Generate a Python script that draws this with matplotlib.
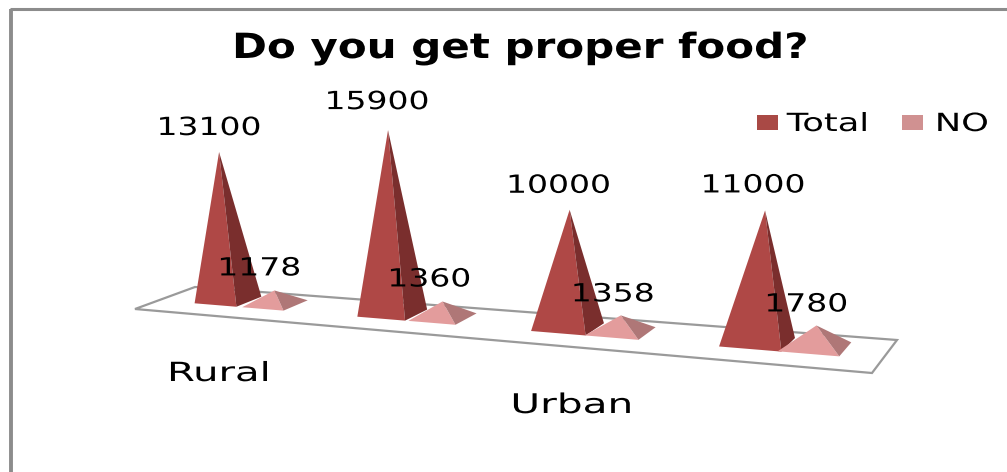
#!/usr/bin/env python3
# -*- coding: utf-8 -*-
import numpy as np
import matplotlib
matplotlib.use('Agg')
import matplotlib.pyplot as plt
from matplotlib.patches import Polygon, Patch
from matplotlib.patheffects import AbstractPathEffect
from matplotlib.transforms import Affine2D

title = 'Do you get proper food?'
categories = ['Rural', 'Urban']
series_names = ['Total', 'NO']
total_values = [13100, 15900, 10000, 11000]
no_values = [1178, 1360, 1358, 1780]

# layout, all in image pixels
floor_corners = np.array([[135, 309], [872, 373], [897, 340], [195, 287]], dtype=float)
total_u = [0.100, 0.367, 0.617, 0.854]
no_u = [0.180, 0.442, 0.686, 0.920]
half_u = 0.036
depth_lo, depth_hi = 0.38, 0.82
total_dx = [-10, -11, -11, -12]
total_dy = [-24, -28, -24, -25]
no_dx = [-15, -13, -8, -10]
no_dy = [-22, -22, -21, -21]
colors_total = ('#AF4846', '#7A2E2D')
colors_no = ('#E39C9C', '#AF7777')
grey = '#8C8C8C'


class WideText(AbstractPathEffect):
    # the reference image was stretched sideways, so the glyphs are too
    def __init__(self, stretch):
        super().__init__()
        self.stretch = stretch

    def draw_path(self, renderer, gc, tpath, affine, rgbFace=None):
        ext = tpath.get_extents()
        cx = (ext.x0 + ext.x1) / 2
        wide = Affine2D().translate(-cx, 0).scale(self.stretch, 1).translate(cx, 0) + affine
        renderer.draw_path(gc, tpath, wide, rgbFace)


def floor_matrix(c):
    # unit square -> floor quad
    d1 = c[1] - c[2]
    d2 = c[3] - c[2]
    s = c[0] - c[1] + c[2] - c[3]
    det = d1[0] * d2[1] - d1[1] * d2[0]
    g = (s[0] * d2[1] - s[1] * d2[0]) / det
    h = (d1[0] * s[1] - d1[1] * s[0]) / det
    return np.array([[c[1, 0] - c[0, 0] + g * c[1, 0], c[3, 0] - c[0, 0] + h * c[3, 0], c[0, 0]],
                     [c[1, 1] - c[0, 1] + g * c[1, 1], c[3, 1] - c[0, 1] + h * c[3, 1], c[0, 1]],
                     [g, h, 1.0]])


M = floor_matrix(floor_corners)


def on_floor(u, w):
    p = M @ np.array([u, w, 1.0])
    return p[:2] / p[2]


def draw_pyramid(ax, u, value, colors, half):
    left = on_floor(u - half, depth_lo)
    front = on_floor(u + half, depth_lo)
    right = on_floor(u + half, depth_hi)
    back = on_floor(u - half, depth_hi)
    centre = (left + right + front + back) / 4
    # value axis: scale grows toward the viewer, and it leans to the middle
    height = value * (0.0113 + (centre[0] - 226) * 1.3e-6)
    apex = centre + [(centre[0] - 500) * height * 2.25e-4, -height]
    ax.add_patch(Polygon([left, front, apex], closed=True, fc=colors[0], ec='none', zorder=3))
    ax.add_patch(Polygon([front, right, apex], closed=True, fc=colors[1], ec='none', zorder=3))
    return apex


fig, ax = plt.subplots(figsize=(10.07, 4.72), dpi=100)
fig.subplots_adjust(left=0, right=1, bottom=0, top=1)
ax.set_xlim(0, 1007)
ax.set_ylim(472, 0)
ax.axis('off')

# Chart frame
ax.plot([11, 11], [472, 8.5], color=grey, lw=2.8, solid_capstyle='butt')
ax.plot([9.5, 1007], [8.5, 8.5], color=grey, lw=2.2, solid_capstyle='butt')

# Floor
ax.add_patch(Polygon(floor_corners, closed=True, fc='white', ec='#9A9A9A', lw=1.6, zorder=1))

wide_label = [WideText(1.32)]
for i in range(len(total_values)):
    apex = draw_pyramid(ax, total_u[i], total_values[i], colors_total, half_u)
    ax.text(apex[0] + total_dx[i], apex[1] + total_dy[i], str(total_values[i]), fontsize=18,
            ha='center', va='center', zorder=5, path_effects=wide_label)
for i in range(len(no_values)):
    apex = draw_pyramid(ax, no_u[i], no_values[i], colors_no, half_u * 0.95)
    ax.text(apex[0] + no_dx[i], apex[1] + no_dy[i], str(no_values[i]), fontsize=18,
            ha='center', va='center', zorder=5, path_effects=wide_label)

ax.text(520.5, 48, title, fontsize=25, fontweight='bold', ha='center', va='center',
        path_effects=[WideText(1.21)])
ax.text(219, 374, categories[0], fontsize=19, ha='center', va='center',
        path_effects=[WideText(1.52)])
ax.text(572, 406, categories[1], fontsize=19.5, ha='center', va='center',
        path_effects=[WideText(1.5)])

handles = [Patch(fc='#A94945', ec='none'), Patch(fc='#D09191', ec='none')]
leg = ax.legend(handles, series_names, ncol=2, frameon=False, fontsize=18, loc='center left',
                bbox_to_anchor=(757 / 1007, 1 - 124 / 472), handlelength=0.85, handleheight=0.56,
                handletextpad=0.8, columnspacing=1.8, borderpad=0, borderaxespad=0)
for txt in leg.get_texts():
    txt.set_path_effects([WideText(1.41)])

plt.savefig('out.png', dpi=100)
